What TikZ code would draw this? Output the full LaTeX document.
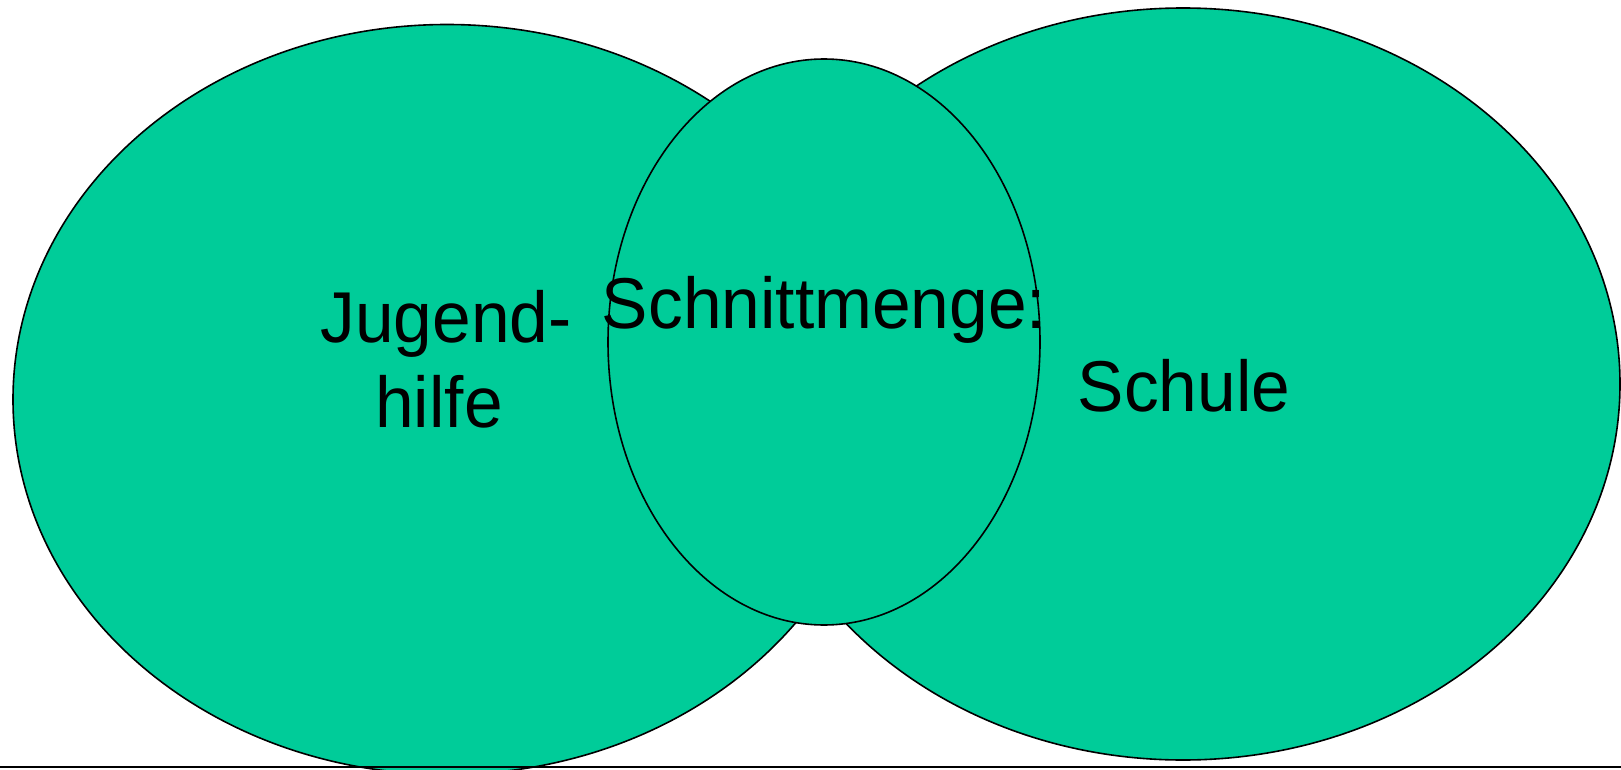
\documentclass[tikz,border=0pt]{standalone}
\usepackage{fontspec}
\setmainfont{Liberation Sans}
\newfontfamily\labelfont{Liberation Sans}[FakeStretch=0.965]
\definecolor{setgreen}{RGB}{0,204,153}
\tikzset{
  setshape/.style={fill=setgreen, draw=black, line width=1.6pt},
  label/.style={font=\labelfont\fontsize{72}{86}\selectfont, text=black, anchor=base, inner sep=0pt, align=center}
}
\begin{document}
\begin{tikzpicture}[x=1pt,y=-1pt]
\useasboundingbox (0,0) rectangle (1621,770);
\clip (0,0) rectangle (1621,770);
\path[setshape] (447,399.5) ellipse [x radius=434, y radius=375];
\path[setshape] (1183,384) ellipse [x radius=437, y radius=376];
\path[setshape] (824,342) ellipse [x radius=216, y radius=283];
\coordinate (lineL) at (0,767);
\coordinate (lineR) at (1621,767);
\draw[line width=2.6pt, black] (lineL) -- (lineR);
\node[label] (jug) at (446,342) {Jugend-};
\node[label] (hil) at (439,427) {hilfe};
\node[label] (sch) at (824,328) {Schnittmenge:};
\node[label] (schule) at (1184,411) {Schule};
\end{tikzpicture}
\end{document}
